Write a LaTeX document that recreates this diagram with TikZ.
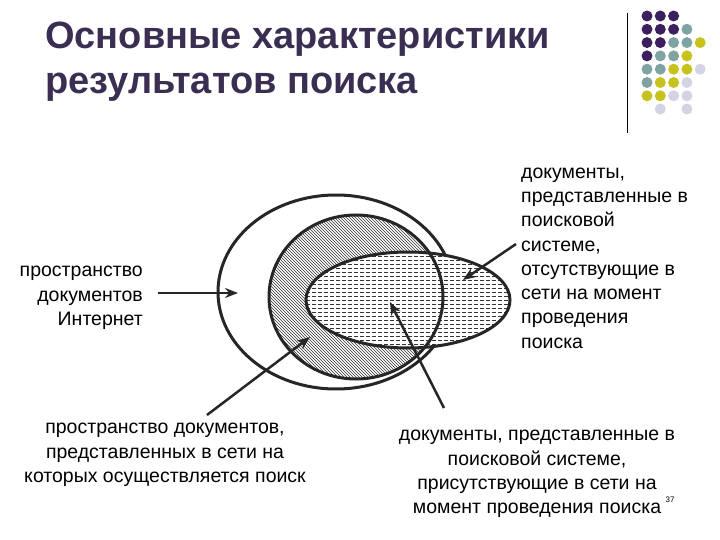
\documentclass[tikz,border=0pt]{standalone}
\usepackage{fontspec}
\setmainfont{Liberation Sans}
\usetikzlibrary{patterns,arrows.meta}
\definecolor{dP}{HTML}{3B1F5E}
\definecolor{dT}{HTML}{7FA3A3}
\definecolor{dY}{HTML}{C8C21E}
\definecolor{dL}{HTML}{D3D3E3}
\definecolor{ttl}{HTML}{3A2E52}
\tikzset{
 lbl/.style={font=\fontsize{19.5}{24.3}\selectfont, inner sep=0pt},
 ring/.style={line width=3pt, draw=black!85},
 arr/.style={line width=2.5pt, draw=black!85, -{Stealth[length=13pt,width=10pt]}},
 dot/.style={circle, minimum size=11pt, inner sep=0pt},
}
\begin{document}
\begin{tikzpicture}[x=1pt,y=-1pt]
\useasboundingbox (0,0) rectangle (720,540);
\node[anchor=west, font=\fontsize{38}{45}\selectfont\bfseries, text=ttl, align=left, inner sep=0pt] (title) at (45,62) {Основные характеристики\\результатов поиска};
\draw[line width=1pt] (627,13) -- (627,133);
% dots
\foreach \r/\lst in {0/{P,P,P},1/{P,P,P,T},2/{P,P,T,T,Y},3/{P,T,T,Y},4/{T,T,Y,Y,L},5/{T,Y,Y,L},6/{Y,Y,L,L}}{
 \foreach \c [count=\i from 0] in \lst {
  \node[dot, fill=d\c] (d\r\i) at ({647+13.3*\i},{16+13.3*\r}) {};
 }}
\node[dot, fill=dL] (d71) at (660.3,109) {};
\node[dot, fill=dL] (d73) at (686.9,109) {};
% ellipses
\draw[ring] (336,292) ellipse [x radius=118, y radius=97];
\fill[white] (356,297) ellipse [x radius=87, y radius=82];
\fill[pattern=north west lines, pattern color=black!80] (356,297) ellipse [x radius=87, y radius=82];
\fill[white] (408,300) ellipse [x radius=102, y radius=48];
\begin{scope}
 \clip (408,300) ellipse [x radius=102, y radius=48];
 \foreach \yy in {252,256,...,350} \draw[black!80, line width=0.6pt, dash pattern=on 4pt off 2pt] (300,\yy) -- (515,\yy);
\end{scope}
\draw[ring] (356,297) ellipse [x radius=87, y radius=82];
\draw[ring] (408,300) ellipse [x radius=102, y radius=48];
% labels
\node[lbl, anchor=east, align=right] (l1) at (143,298) {пространство\\документов\\Интернет};
\node[lbl, align=center] (l2) at (165,455) {пространство документов,\\представленных в сети на\\которых осуществляется поиск};
\node[lbl, anchor=west, align=left] (l3) at (521,258) {документы,\\представленные в\\поисковой\\системе,\\отсутствующие в\\сети на момент\\проведения\\поиска};
\node[lbl, align=center] (l4) at (537,474) {документы, представленные в\\поисковой системе,\\присутствующие в сети на\\момент проведения поиска};
\node[font=\fontsize{8}{10}\selectfont, inner sep=0pt] (pg) at (670,500) {37};
% arrows
\coordinate (t1) at (238,293);
\coordinate (t2) at (310,337);
\coordinate (t3) at (390,302);
\coordinate (t4) at (463,280);
\draw[arr] (158,293) -- (t1);
\draw[arr] (207,415) -- (t2);
\draw[arr] (444,408) -- (t3);
\draw[arr] (516,244) -- (t4);
\end{tikzpicture}
\end{document}
